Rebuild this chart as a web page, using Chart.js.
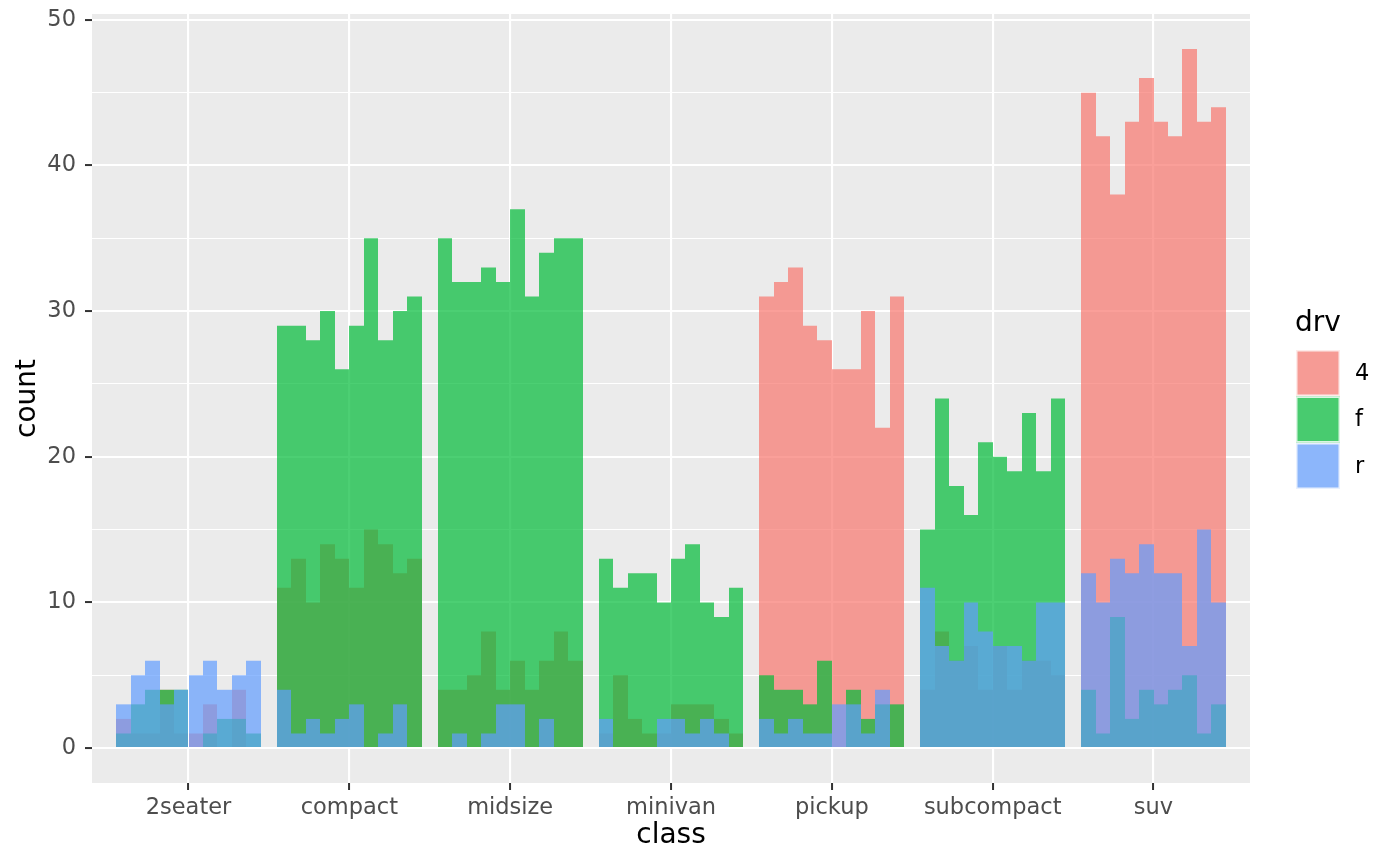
<!DOCTYPE html>
<html>
<head>
<meta charset="utf-8">
<title>count by class and drv</title>
<script src="https://cdn.jsdelivr.net/npm/chart.js@4.4.1/dist/chart.umd.min.js"></script>
<style>
  html, body { margin: 0; padding: 0; background: #ffffff; }
  #wrap { width: 1400px; height: 866px; }
</style>
</head>
<body>
<div id="wrap"><canvas id="chart" width="1400" height="866"></canvas></div>
<script>
// ── Data ───────────────────────────────────────────────────────────────────
const CLASSES = ["2seater", "compact", "midsize", "minivan", "pickup", "subcompact", "suv"];
const DRV_LEVELS = ["4", "f", "r"];
const BINS_PER_CLASS = 10;

// ten narrow bins per class, left to right
const COUNT_4 = [
  2, 1, 1, 4, 1, 1, 3, 0, 4, 0,          // 2seater
  11, 13, 10, 14, 13, 11, 15, 14, 12, 13, // compact
  4, 4, 5, 8, 4, 6, 4, 6, 8, 6,           // midsize
  1, 5, 2, 1, 1, 3, 3, 3, 2, 1,           // minivan
  31, 32, 33, 29, 28, 26, 26, 30, 22, 31, // pickup
  4, 8, 6, 7, 4, 7, 4, 6, 6, 5,           // subcompact
  45, 42, 38, 43, 46, 43, 42, 48, 43, 44, // suv
];
const COUNT_F = [
  1, 3, 4, 4, 4, 0, 1, 2, 2, 1,
  29, 29, 28, 30, 26, 29, 35, 28, 30, 31,
  35, 32, 32, 33, 32, 37, 31, 34, 35, 35,
  13, 11, 12, 12, 10, 13, 14, 10, 9, 11,
  5, 4, 4, 3, 6, 0, 4, 2, 3, 3,
  15, 24, 18, 16, 21, 20, 19, 23, 19, 24,
  4, 1, 9, 2, 4, 3, 4, 5, 1, 3,
];
const COUNT_R = [
  3, 5, 6, 3, 4, 5, 6, 4, 5, 6,
  4, 1, 2, 1, 2, 3, 0, 1, 3, 0,
  0, 1, 0, 1, 3, 3, 0, 2, 0, 0,
  2, 0, 0, 0, 2, 2, 1, 2, 1, 0,
  2, 1, 2, 1, 1, 3, 3, 1, 4, 0,
  11, 7, 6, 10, 8, 7, 7, 6, 10, 10,
  12, 10, 13, 12, 14, 12, 12, 7, 15, 10,
];

// ── Theme ──────────────────────────────────────────────────────────────────
const FONT = "'DejaVu Sans', sans-serif";
const PANEL_BG = "#EBEBEB";
const TICK_SIZE = 22.5;
const TITLE_SIZE = 28;
const FILLS = {
  "4": "rgba(248, 118, 109, 0.7)",
  "f": "rgba(0, 186, 56, 0.7)",
  "r": "rgba(97, 156, 255, 0.7)",
};

Chart.defaults.font.family = FONT;

// each class spans 0.9 units, split into equal bins
function toPoints(values) {
  const w = 0.9 / BINS_PER_CLASS;
  return values.map((v, k) => {
    const ci = Math.floor(k / BINS_PER_CLASS);
    const j = k % BINS_PER_CLASS;
    return { x: ci + 1 - 0.45 + w * (j + 0.5), y: v };
  });
}

function noScalePadding(scale) {
  scale.paddingTop = 0;
  scale.paddingBottom = 0;
  scale.paddingLeft = 0;
  scale.paddingRight = 0;
}

// ── Plugins ────────────────────────────────────────────────────────────────
// snap bar edges to whole pixels so neighbouring translucent bars leave no seams
const snapBars = {
  id: "snapBars",
  afterDatasetsUpdate(chart) {
    chart.data.datasets.forEach((_, i) => {
      chart.getDatasetMeta(i).data.forEach(el => {
        const l = Math.round(el.x - el.width / 2);
        const r = Math.round(el.x + el.width / 2);
        el.x = (l + r) / 2;
        el.width = r - l;
      });
    });
  },
};

const ggPanel = {
  id: "ggPanel",
  beforeDraw(chart) {
    const { ctx, chartArea: a } = chart;
    ctx.save();
    ctx.fillStyle = PANEL_BG;
    ctx.fillRect(a.left, a.top, a.right - a.left, a.bottom - a.top);
    ctx.restore();
  },
  afterDraw(chart) {
    const { ctx, chartArea: a } = chart;
    ctx.save();
    ctx.fillStyle = "#000000";
    ctx.font = TITLE_SIZE + "px " + FONT;
    ctx.textAlign = "center";
    ctx.textBaseline = "middle";
    ctx.fillText("class", (a.left + a.right) / 2, 836);
    ctx.translate(28, (a.top + a.bottom) / 2);
    ctx.rotate(-Math.PI / 2);
    ctx.fillText("count", 0, 0);
    ctx.restore();

    // legend
    ctx.save();
    ctx.textAlign = "left";
    ctx.textBaseline = "middle";
    ctx.fillStyle = "#000000";
    ctx.font = TITLE_SIZE + "px " + FONT;
    ctx.fillText("drv", 1295, 324);
    ctx.font = TICK_SIZE + "px " + FONT;
    DRV_LEVELS.forEach((lvl, i) => {
      const cy = 373 + i * 46.5;
      const x = 1296, y = cy - 23, w = 44, h = 46;
      ctx.fillStyle = "#F2F2F2";
      ctx.fillRect(x, y, w, h);
      ctx.fillStyle = FILLS[lvl];
      ctx.fillRect(x, y, w, h);
      ctx.strokeStyle = "rgba(255,255,255,0.8)";
      ctx.lineWidth = 1.5;
      ctx.strokeRect(x + 0.75, y + 0.75, w - 1.5, h - 1.5);
      ctx.fillStyle = "#000000";
      ctx.fillText(lvl, 1355, cy + 1);
    });
    ctx.restore();
  },
};

// ── Chart ──────────────────────────────────────────────────────────────────
const datasets = [
  { label: "4", data: toPoints(COUNT_4), backgroundColor: FILLS["4"], order: 3 },
  { label: "f", data: toPoints(COUNT_F), backgroundColor: FILLS["f"], order: 2 },
  { label: "r", data: toPoints(COUNT_R), backgroundColor: FILLS["r"], order: 1 },
].map(d => ({
  ...d,
  borderWidth: 0,
  barPercentage: 1,
  categoryPercentage: 1,
  grouped: false,
  inflateAmount: 0,
}));

new Chart(document.getElementById("chart"), {
  type: "bar",
  data: { datasets },
  options: {
    responsive: false,
    animation: false,
    devicePixelRatio: 1,
    layout: { padding: { top: 14, right: 150, left: 0, bottom: 0 } },
    plugins: {
      legend: { display: false },
      tooltip: { enabled: false },
    },
    scales: {
      x: {
        type: "linear",
        min: 0.4,
        max: 7.6,
        offset: false,
        afterBuildTicks(scale) {
          scale.ticks = CLASSES.map((_, i) => ({ value: i + 1 }));
        },
        afterFit(scale) { scale.height = 83; noScalePadding(scale); },
        ticks: {
          autoSkip: false,
          maxRotation: 0,
          padding: 5,
          color: "#4D4D4D",
          font: { size: TICK_SIZE },
          callback: v => CLASSES[Math.round(v) - 1] || "",
        },
        grid: {
          offset: false,
          color: "#FFFFFF",
          lineWidth: 2.1,
          tickLength: 7,
          tickColor: "#333333",
          tickWidth: 2,
        },
        border: { display: false },
      },
      y: {
        min: -2.4,
        max: 50.4,
        afterFit(scale) { scale.width = 92; noScalePadding(scale); },
        ticks: {
          stepSize: 5,
          includeBounds: false,
          padding: 9,
          color: "#4D4D4D",
          font: { size: TICK_SIZE },
          callback: v => (v % 10 === 0 ? String(v) : ""),
        },
        grid: {
          color: "#FFFFFF",
          lineWidth: c => (c.tick && c.tick.value % 10 === 0 ? 2.1 : 1.05),
          tickLength: 7,
          tickColor: c => (c.tick && c.tick.value % 10 === 0 ? "#333333" : "rgba(0,0,0,0)"),
          tickWidth: 2,
        },
        border: { display: false },
      },
    },
  },
  plugins: [snapBars, ggPanel],
});
</script>
</body>
</html>
